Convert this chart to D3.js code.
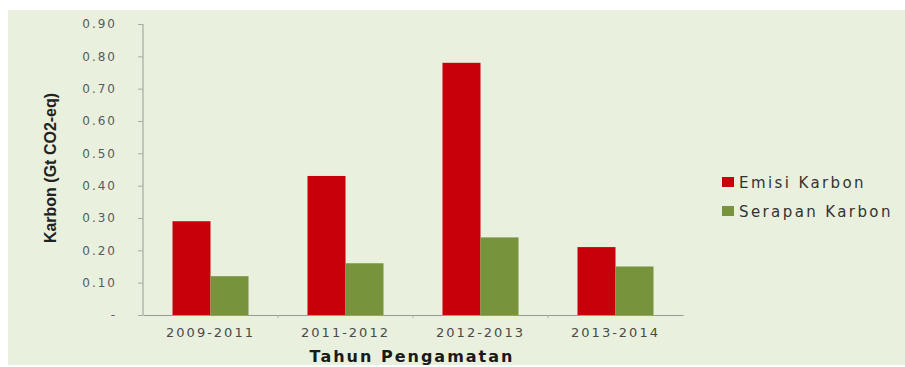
<!DOCTYPE html>
<html>
<head>
<meta charset="utf-8">
<script src="https://cdn.jsdelivr.net/npm/d3@7"></script>
<style>
  body { margin: 0; background: #fff; }
  text { font-family: "DejaVu Sans", Verdana, sans-serif; }
</style>
</head>
<body>
<div id="chart"></div>
<script>
var periods = ["2009-2011", "2011-2012", "2012-2013", "2013-2014"],
    emisi = [0.29, 0.43, 0.78, 0.21],     // Emisi Karbon
    serapan = [0.12, 0.16, 0.24, 0.15],   // Serapan Karbon
    yTicks = [0, 0.1, 0.2, 0.3, 0.4, 0.5, 0.6, 0.7, 0.8, 0.9],
    seriesNames = ["Emisi Karbon", "Serapan Karbon"],
    seriesColors = ["#c8000a", "#77933c"];

var w = 905, h = 367;
var svg = d3.select("#chart").append("svg")
    .attr("width", w)
    .attr("height", h);

// light green panel
svg.append("rect")
    .attr("x", 8).attr("y", 10)
    .attr("width", w - 8).attr("height", 355)
    .attr("fill", "#e9f0dd");

var margin = {top: 24, left: 143},
    width = 540, height = 291;

var x = d3.scaleBand().domain(periods).range([0, width]);
var x1 = d3.scaleBand().domain(seriesNames).range([0, 76]);
var y = d3.scaleLinear().domain([0, 0.9]).range([height, 0]);

var g = svg.append("g")
    .attr("transform", "translate(" + margin.left + "," + margin.top + ")");

// bars
var rows = periods.map(function(p, i) { return {p: p, vals: [emisi[i], serapan[i]]}; });
var groups = g.selectAll(".grp")
  .data(rows)
  .enter().append("g")
    .attr("class", "grp")
    .attr("transform", function(d) { return "translate(" + (x(d.p) + (x.bandwidth() - 76) / 2) + ",0)"; });
groups.selectAll("rect")
  .data(function(d) { return d.vals.map(function(v, k) { return {v: v, k: k}; }); })
  .enter().append("rect")
    .attr("x", function(d) { return x1(seriesNames[d.k]); })
    .attr("y", function(d) { return y(d.v); })
    .attr("width", x1.bandwidth())
    .attr("height", function(d) { return height - y(d.v); })
    .attr("fill", function(d) { return seriesColors[d.k]; });

// y axis
var yAxis = g.append("g")
    .call(d3.axisLeft(y).tickValues(yTicks).tickSize(5).tickPadding(21)
      .tickFormat(function(d) { return d === 0 ? "-" : d3.format(".2f")(d); }));
yAxis.select(".domain").attr("stroke", "#999").attr("d", "M0," + height + "V0");
yAxis.selectAll(".tick line").attr("stroke", "#aaa");
yAxis.selectAll(".tick text")
    .attr("fill", "#5a5a5a")
    .style("font-size", "12px")
    .style("letter-spacing", "2px");

// x axis
var xAxis = g.append("g")
    .attr("transform", "translate(0," + height + ")")
    .call(d3.axisBottom(x).tickSize(0).tickPadding(13));
xAxis.select(".domain").attr("stroke", "#999");
xAxis.selectAll(".tick text")
    .attr("fill", "#4a4a4a")
    .style("font-size", "13px")
    .style("letter-spacing", "2px");
xAxis.selectAll(".sep")
  .data(periods.slice(1))
  .enter().append("line")
    .attr("class", "sep")
    .attr("x1", function(d) { return x(d); })
    .attr("x2", function(d) { return x(d); })
    .attr("y1", 0).attr("y2", 3)
    .attr("stroke", "#aaa");

// axis titles
svg.append("text")
    .attr("transform", "translate(56,168) rotate(-90)")
    .attr("text-anchor", "middle")
    .attr("fill", "#222")
    .style("font-family", "'Liberation Sans', Arial, sans-serif")
    .style("font-weight", "bold")
    .style("font-size", "16px")
    .text("Karbon (Gt CO2-eq)");

svg.append("text")
    .attr("x", margin.left + width / 2 - 1)
    .attr("y", 362)
    .attr("text-anchor", "middle")
    .attr("fill", "#1a1a1a")
    .style("font-weight", "bold")
    .style("font-size", "16px")
    .style("letter-spacing", "2px")
    .text("Tahun Pengamatan");

// legend
var legend = svg.append("g")
    .attr("transform", "translate(722,177)");
legend.selectAll("rect")
  .data(seriesNames)
  .enter().append("rect")
    .attr("x", 0)
    .attr("y", function(d, i) { return i * 29; })
    .attr("width", 12)
    .attr("height", 10)
    .attr("fill", function(d, i) { return seriesColors[i]; });
legend.selectAll("text")
  .data(seriesNames)
  .enter().append("text")
    .attr("x", 17)
    .attr("y", function(d, i) { return i * 29 + 11; })
    .attr("fill", "#333")
    .style("font-size", "15px")
    .style("letter-spacing", "2.4px")
    .text(function(d) { return d; });
</script>
</body>
</html>
